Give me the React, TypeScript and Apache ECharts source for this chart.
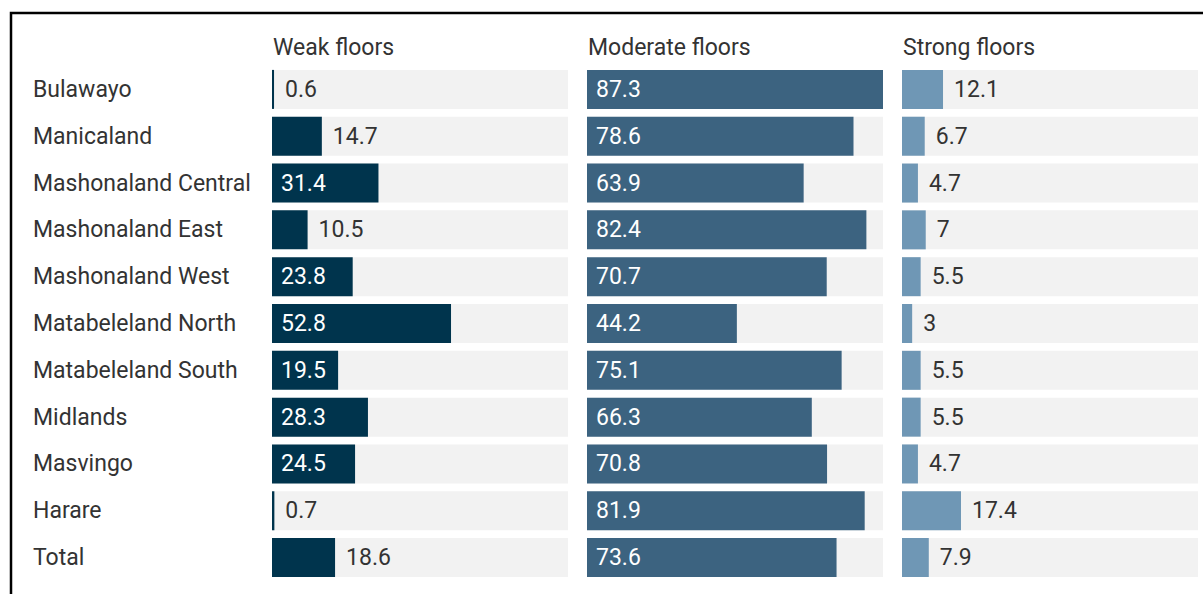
import React, { useEffect, useRef } from "react";
import * as echarts from "echarts";

const categories = [
  "Bulawayo",
  "Manicaland",
  "Mashonaland Central",
  "Mashonaland East",
  "Mashonaland West",
  "Matabeleland North",
  "Matabeleland South",
  "Midlands",
  "Masvingo",
  "Harare",
  "Total",
];
const panelTitles = ["Weak floors", "Moderate floors", "Strong floors"];
const weak = [0.6, 14.7, 31.4, 10.5, 23.8, 52.8, 19.5, 28.3, 24.5, 0.7, 18.6];
const moderate = [87.3, 78.6, 63.9, 82.4, 70.7, 44.2, 75.1, 66.3, 70.8, 81.9, 73.6];
const strong = [12.1, 6.7, 4.7, 7, 5.5, 3, 5.5, 5.5, 4.7, 17.4, 7.9];

const seriesData = [weak, moderate, strong];
const colors = ["#00344d", "#3c6380", "#6f97b5"];
const FONT = "Roboto, sans-serif";
const FS = 23;

export default function App() {
  const ref = useRef<HTMLDivElement>(null);
  useEffect(() => {
    document.body.style.margin = "0";
    const chart = echarts.init(ref.current!, null, { renderer: "svg" });
    const maxVal = Math.max(...weak, ...moderate, ...strong);
    const lefts = [272, 587, 902];
    const panelW = 296;
    const top = 66;
    const height = 515;
    const grids = lefts.map((l) => ({ left: l, top, width: panelW, height }));
    const xAxes = lefts.map((_, i) => ({
      type: "value",
      gridIndex: i,
      min: 0,
      max: maxVal,
      show: false,
    }));
    const yAxes = lefts.map((_, i) => ({
      type: "category",
      gridIndex: i,
      data: categories,
      inverse: true,
      axisLine: { show: false },
      axisTick: { show: false },
      splitLine: { show: false },
      axisLabel: {
        show: i === 0,
        align: "left",
        margin: 239,
        fontFamily: FONT,
        fontSize: FS,
        color: "#333333",
      },
    }));
    const series = seriesData.map((arr, i) => ({
      type: "bar",
      xAxisIndex: i,
      yAxisIndex: i,
      barWidth: 39,
      showBackground: true,
      backgroundStyle: { color: "#f2f2f2" },
      itemStyle: { color: colors[i] },
      data: arr.map((v) => {
        const inside = i < 2 && v >= 19;
        return {
          value: v,
          label: {
            show: true,
            position: inside ? "insideLeft" : "right",
            distance: inside ? 9 : 11,
            color: inside ? "#ffffff" : "#333333",
            fontFamily: FONT,
            fontSize: FS,
            formatter: String(v),
          },
        };
      }),
    }));
    chart.setOption({
      animation: false,
      grid: grids,
      xAxis: xAxes,
      yAxis: yAxes,
      series,
      graphic: [
        {
          type: "rect",
          shape: { x: 11, y: 13, width: 1400, height: 800 },
          style: { fill: "none", stroke: "#000000", lineWidth: 2.5 },
          silent: true,
        },
        ...panelTitles.map((t, i) => ({
          type: "text",
          x: lefts[i] + 1,
          y: 47,
          style: {
            text: t,
            fontFamily: FONT,
            fontSize: FS,
            fill: "#333333",
            verticalAlign: "middle",
          },
        })),
      ],
    });
    return () => chart.dispose();
  }, []);
  return <div ref={ref} style={{ width: 1203, height: 594 }} />;
}
